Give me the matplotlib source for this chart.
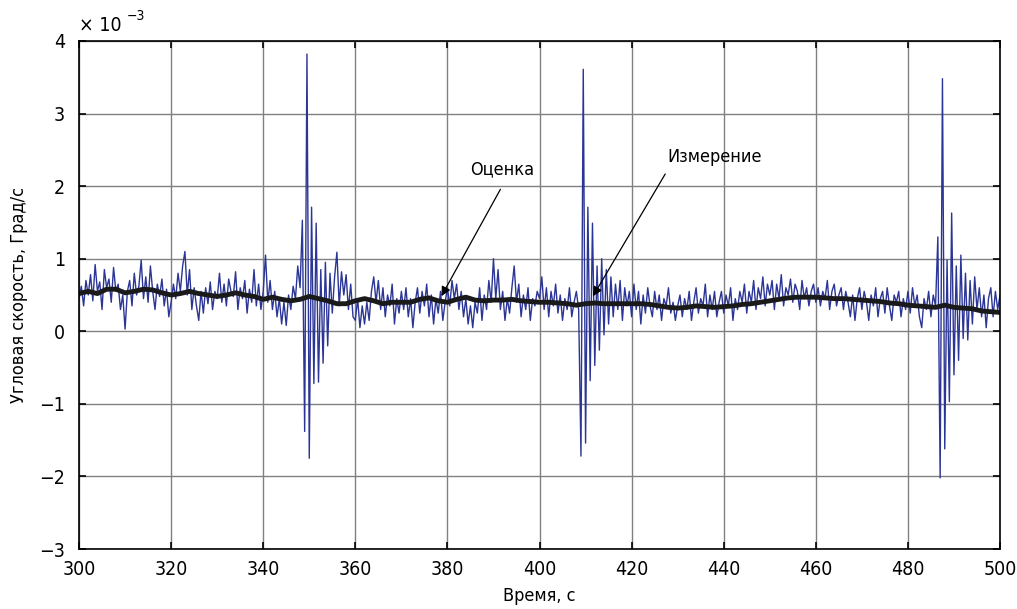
import numpy as np
import matplotlib
matplotlib.use("Agg")
import matplotlib.pyplot as plt
from matplotlib import font_manager as fm

# pick a narrow face if one is installed, else Liberation Sans
narrow = [f for f in fm.fontManager.ttflist
          if f.stretch in ('condensed', 'semi-condensed', 'extra-condensed', 500 - 200)
          or 'Narrow' in f.name or 'Condensed' in f.name]
if narrow:
    plt.rcParams['font.family'] = [narrow[0].name, 'DejaVu Sans']
    plt.rcParams['font.stretch'] = narrow[0].stretch
else:
    plt.rcParams['font.family'] = ['Liberation Sans', 'DejaVu Sans']

# measured angular rate, 1e-3 deg/s, sampled every 0.5 s from 300 to 500 s
t_start, t_step = 300.0, 0.5
meas = [
    # 300
    0.45, 0.62, 0.35, 0.70, 0.50, 0.78, 0.42, 0.92, 0.55, 0.68, 0.30, 0.85, 0.60, 0.72, 0.40, 0.88, 0.55, 0.65, 0.30, 0.50,
    # 310
    0.03, 0.55, 0.70, 0.35, 0.80, 0.50, 0.62, 0.98, 0.45, 0.75, 0.40, 0.90, 0.55, 0.30, 0.65, 0.48, 0.72, 0.35, 0.58, 0.20,
    # 320
    0.40, 0.65, 0.45, 0.80, 0.55, 0.90, 1.10, 0.50, 0.85, 0.30, 0.60, 0.35, 0.15, 0.55, 0.25, 0.60, 0.38, 0.68, 0.30, 0.55,
    # 330
    0.45, 0.80, 0.40, 0.65, 0.35, 0.72, 0.55, 0.48, 0.82, 0.30, 0.60, 0.45, 0.70, 0.25, 0.58, 0.40, 0.85, 0.35, 0.65, 0.30,
    # 340
    0.55, 1.05, 0.40, 0.70, 0.30, 0.55, 0.20, 0.45, 0.10, 0.40, 0.08, 0.50, 0.30, 0.62, 0.45, 0.90, 0.60, 1.53, -1.38, 3.82,
    # 350
    -1.75, 1.71, -0.72, 1.49, -0.70, 0.85, -0.44, 0.95, -0.20, 0.80, 0.25, 0.75, 1.09, 0.35, 0.82, 0.50, 0.78, 0.30, 0.65, 0.20,
    # 360
    0.15, 0.45, 0.05, 0.35, 0.10, 0.40, 0.15, 0.55, 0.75, 0.40, 0.70, 0.30, 0.60, 0.20, 0.50, 0.35, 0.65, 0.10, 0.45, 0.25,
    # 370
    0.55, 0.30, 0.60, 0.20, 0.45, 0.05, 0.40, 0.60, 0.25, 0.55, 0.35, 0.65, 0.20, 0.50, 0.10, 0.45, 0.25, 0.55, 0.15, 0.40,
    # 380
    0.60, 0.35, 0.70, 0.45, 0.65, 0.30, 0.55, 0.20, 0.45, 0.10, 0.35, 0.05, 0.40, 0.25, 0.60, 0.15, 0.50, 0.30, 0.70, 0.40,
    # 390
    1.00, 0.45, 0.85, 0.30, 0.55, 0.15, 0.45, 0.25, 0.60, 0.90, 0.40, 0.65, 0.20, 0.50, 0.30, 0.60, 0.15, 0.45, 0.35, 0.55,
    # 400
    0.45, 0.75, 0.30, 0.60, 0.20, 0.55, 0.35, 0.65, 0.25, 0.50, 0.15, 0.45, 0.30, 0.60, 0.20, 0.40, 0.55, 0.30, -1.72, 3.61,
    # 410
    -1.54, 1.71, -0.68, 1.49, -0.47, 0.90, -0.26, 1.00, -0.05, 0.85, 0.10, 0.75, 0.20, 0.65, 0.30, 0.70, 0.15, 0.60, 0.35, 0.55,
    # 420
    0.20, 0.65, 0.30, 0.55, 0.10, 0.50, 0.25, 0.60, 0.35, 0.20, 0.55, 0.30, 0.50, 0.15, 0.45, 0.35, 0.60, 0.25, 0.40, 0.15,
    # 430
    0.35, 0.50, 0.20, 0.45, 0.30, 0.55, 0.15, 0.40, 0.60, 0.25, 0.45, 0.35, 0.65, 0.20, 0.50, 0.30, 0.55, 0.20, 0.40, 0.55,
    # 440
    0.25, 0.50, 0.35, 0.60, 0.15, 0.45, 0.30, 0.55, 0.40, 0.65, 0.25, 0.55, 0.40, 0.70, 0.30, 0.60, 0.45, 0.75, 0.35, 0.65,
    # 450
    0.50, 0.70, 0.30, 0.65, 0.45, 0.78, 0.35, 0.60, 0.50, 0.72, 0.40, 0.65, 0.55, 0.30, 0.70, 0.45, 0.60, 0.35, 0.55, 0.65,
    # 460
    0.40, 0.60, 0.35, 0.55, 0.45, 0.70, 0.30, 0.55, 0.65, 0.35, 0.50, 0.60, 0.30, 0.55, 0.40, 0.20, 0.50, 0.15, 0.45, 0.60,
    # 470
    0.30, 0.55, 0.40, 0.15, 0.50, 0.35, 0.60, 0.20, 0.45, 0.55, 0.25, 0.60, 0.35, 0.15, 0.50, 0.40, 0.55, 0.20, 0.45, 0.30,
    # 480
    0.55, 0.25, 0.60, 0.35, 0.50, 0.20, 0.05, 0.45, 0.30, 0.55, 0.20, 0.50, 0.35, 1.30, -2.02, 3.48, -1.62, 0.98, -0.97, 1.63,
    # 490
    -0.60, 0.90, -0.40, 1.05, -0.10, 0.80, -0.12, 0.70, 0.10, 0.75, 0.30, 0.60, 0.20, 0.50, 0.05, 0.45, 0.60, 0.20, 0.55, 0.30,
    0.50,
]
t_meas = t_start + t_step * np.arange(len(meas))

# filtered estimate, every 2 s
t_est = np.arange(300, 502, 2)
est = [
    0.52, 0.55, 0.52, 0.58, 0.58, 0.53, 0.55, 0.58, 0.57, 0.53,
    0.50, 0.52, 0.55, 0.52, 0.50, 0.48, 0.50, 0.53, 0.50, 0.48,
    0.44, 0.47, 0.44, 0.42, 0.44, 0.48, 0.45, 0.42, 0.38, 0.38,
    0.42, 0.45, 0.42, 0.38, 0.40, 0.40, 0.40, 0.44, 0.46, 0.42,
    0.40, 0.44, 0.47, 0.43, 0.42, 0.43, 0.43, 0.44, 0.42, 0.41,
    0.40, 0.40, 0.39, 0.38, 0.36, 0.38, 0.39, 0.38, 0.38, 0.38,
    0.38, 0.38, 0.37, 0.35, 0.33, 0.32, 0.33, 0.35, 0.34, 0.33,
    0.34, 0.35, 0.37, 0.38, 0.40, 0.42, 0.44, 0.46, 0.47, 0.47,
    0.47, 0.46, 0.45, 0.45, 0.44, 0.43, 0.42, 0.41, 0.39, 0.38,
    0.36, 0.35, 0.34, 0.33, 0.36, 0.33, 0.32, 0.31, 0.28, 0.27,
    0.26,
]

x_ticks = list(range(300, 501, 20))
y_ticks = list(range(-3, 5))
y_ticklabels = ['\u22123', '\u22122', '\u22121', '0', '1', '2', '3', '4']

fig = plt.figure(figsize=(10.17, 6.09), dpi=100)
ax = fig.add_axes([0.0777, 0.0985, 0.9056, 0.8342])

ax.plot(t_meas, meas, color='#2b3595', lw=1.0)
ax.plot(t_est, est, color='#1a1a1a', lw=3.5, solid_joinstyle='round')

ax.set_xlim(300, 500)
ax.set_ylim(-3, 4)
ax.set_xticks(x_ticks)
ax.set_yticks(y_ticks)
ax.set_yticklabels(y_ticklabels)
ax.grid(True, color='#808080', lw=1.0)
ax.set_axisbelow(True)
ax.tick_params(direction='in', top=True, right=True, labelsize=14, length=5, width=1.2)
ax.tick_params(axis='x', pad=8)
ax.tick_params(axis='y', pad=10)
for s in ax.spines.values():
    s.set_linewidth(1.2)

ax.set_xlabel('Время, с', fontsize=13, labelpad=6)
ax.set_ylabel('Угловая скорость, Град/с', fontsize=13, labelpad=8)

ax.text(0.0, 1.012, '\u00d7 10', transform=ax.transAxes, fontsize=14, va='bottom')
ax.text(0.052, 1.035, '\u22123', transform=ax.transAxes, fontsize=10, va='bottom')

arrow = dict(arrowstyle='-|>', color='black', lw=0.9, mutation_scale=14)
ax.annotate('', xy=(378.4, 0.45), xytext=(391.8, 1.99), arrowprops=arrow)
ax.text(391.8, 2.23, 'Оценка', ha='center', va='center', fontsize=13)
ax.annotate('', xy=(411.3, 0.45), xytext=(427.6, 2.20), arrowprops=arrow)
ax.text(438.1, 2.40, 'Измерение', ha='center', va='center', fontsize=13)

plt.savefig('out.png', dpi=100)
